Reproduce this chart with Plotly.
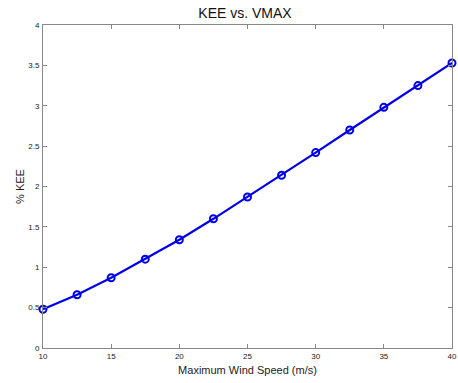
import plotly.graph_objects as go

wind_speed = [10, 12.5, 15, 17.5, 20, 22.5, 25, 27.5, 30, 32.5, 35, 37.5, 40]
kee_pct = [0.48, 0.66, 0.87, 1.10, 1.34, 1.60, 1.87, 2.14, 2.42, 2.70, 2.98, 3.25, 3.53]
x_ticks = [10, 15, 20, 25, 30, 35, 40]
y_ticks = [0, 0.5, 1, 1.5, 2, 2.5, 3, 3.5, 4]
y_tick_text = ["0", "0.5", "1", "1.5", "2", "2.5", "3", "3.5", "4"]

fig = go.Figure(go.Scatter(
    x=wind_speed, y=kee_pct, mode="lines+markers", cliponaxis=False,
    line=dict(color="#0000e6", width=2.2),
    marker=dict(symbol="circle-open", size=7, color="#0000e6", line=dict(width=2)),
))

axis_common = dict(
    showgrid=False, zeroline=False, showline=True, mirror="ticks", automargin=False,
    linecolor="#888888", linewidth=1, ticks="inside", ticklen=4,
    tickcolor="#888888", tickfont=dict(family="Liberation Sans, Arial", size=8, color="#222"),
)
fig.update_layout(
    width=458, height=383,
    margin=dict(l=43, r=6, t=25, b=35, autoexpand=False),
    paper_bgcolor="white", plot_bgcolor="white",
    showlegend=False,
    title=dict(text="KEE vs. VMAX", x=0.535, xanchor="center", y=0.965, yanchor="middle",
               automargin=False,
               font=dict(family="Liberation Sans, Arial", size=14, color="#111")),
    xaxis=dict(range=[9.9999, 40.0001], tickvals=x_ticks, ticklabelstandoff=0,
               title=dict(text="Maximum Wind Speed (m/s)", standoff=6,
                          font=dict(family="Liberation Sans, Arial", size=11, color="#222")),
               **axis_common),
    yaxis=dict(range=[-0.0001, 4.0001], tickvals=y_ticks, ticktext=y_tick_text, ticklabelstandoff=1,
               title=dict(text="% KEE", standoff=1,
                          font=dict(family="Liberation Sans, Arial", size=11, color="#222")),
               **axis_common),
)
fig.write_html("out.html", config={"displayModeBar": False},
               post_script="document.body.style.margin='0px';document.body.style.overflow='hidden';")
